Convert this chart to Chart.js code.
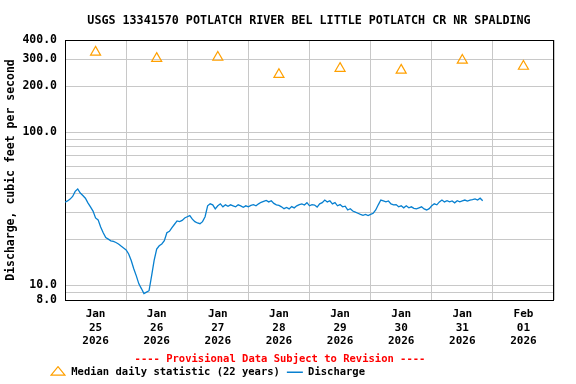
<!DOCTYPE html>
<html>
<head>
<meta charset="utf-8">
<script src="https://cdn.jsdelivr.net/npm/chart.js@4.4.1/dist/chart.umd.min.js"></script>
<style>
  html, body { margin: 0; padding: 0; background: #fff; }
  #wrap { width: 576px; height: 384px; }
</style>
</head>
<body>
<div id="wrap"><canvas id="hydrograph" width="576" height="384"></canvas></div>
<script>
const siteTitle = 'USGS 13341570 POTLATCH RIVER BEL LITTLE POTLATCH CR NR SPALDING';
const provisionalNote = '---- Provisional Data Subject to Revision ----';
const yAxisTitle = 'Discharge, cubic feet per second';

// one entry per day, Jan 25 .. Feb 01
const dayMonths = ['Jan', 'Jan', 'Jan', 'Jan', 'Jan', 'Jan', 'Jan', 'Feb'];
const dayNumbers = ['25', '26', '27', '28', '29', '30', '31', '01'];
const dayYears = ['2026', '2026', '2026', '2026', '2026', '2026', '2026', '2026'];

// median daily statistic (22 years), cfs, one per day
const medianValues = [333, 303, 308, 238, 261, 254, 295, 269];

// discharge, cfs, hourly starting Jan 25 00:00
const dischargeValues = [
  34.9, 35.5, 36.5, 38, 41, 42.5, 40, 38.5, 37, 34.5, 32.5, 30.5, 27.5, 26.7, 24, 22, 20.5, 20, 19.5, 19.3, 19, 18.6, 18, 17.5,
  17, 16, 14.5, 12.8, 11.5, 10.2, 9.5, 8.8, 9.0, 9.2, 11.5, 14.5, 17.2, 18.1, 18.6, 19.5, 22, 22.5, 23.8, 25, 26.3, 26, 26.5, 27.5,
  28, 28.5, 27, 26, 25.5, 25.2, 26, 28, 33, 34, 33.5, 31.5, 33, 34, 32.5, 33.5, 32.8, 33.5, 33, 32.5, 33.5, 33, 32.3, 33,
  32.5, 33.2, 33.6, 33, 34, 34.8, 35.3, 35.8, 35, 35.6, 34.2, 33.5, 33.2, 32.5, 31.6, 32.2, 31.5, 32.6, 32, 33, 33.6, 34, 33.4, 34.6,
  33, 33.6, 33.4, 32.4, 34, 34.6, 36, 35, 35.6, 34, 34.6, 33, 33.6, 32.5, 32.8, 31, 31.6, 30.5, 30, 29.5, 29, 28.6, 29, 28.5,
  29, 29.5, 31, 33.5, 36, 35.5, 35, 35.5, 34, 33.5, 33.6, 32.5, 33, 32, 33, 32, 32.5, 31.8, 31.5, 32, 32.5, 31.5, 31, 31.6,
  33, 34, 33.5, 35, 36, 35, 35.6, 35, 35.5, 34.5, 35.6, 35, 35.5, 36, 35.4, 36, 36.2, 36.6, 36, 37, 35.6
];

const yGridValues = [8, 9, 10, 20, 30, 40, 50, 60, 70, 80, 90, 100, 200, 300, 400];
const yLabelValues = [8, 10, 100, 200, 300, 400];

const monoFont = "'DejaVu Sans Mono', monospace";
const gridGray = '#c8c8c8';

// x is hours since Jan 25 00:00
const dischargePoints = dischargeValues.map((v, i) => ({ x: i, y: v }));
const medianPoints = medianValues.map((v, i) => ({ x: i * 24 + 12, y: v }));

const extras = {
  id: 'extras',
  afterLayout(chart) {
    // put the legend under the provisional note, left side
    const lg = chart.legend;
    const dx = 43 - lg.left, dy = 360 - lg.top;
    lg.left += dx; lg.right += dx;
    lg.top += dy; lg.bottom += dy;
  },
  beforeDatasetsDraw(chart) {
    const { ctx, chartArea: a } = chart;
    ctx.save();
    ctx.strokeStyle = '#000';
    ctx.lineWidth = 1;
    ctx.strokeRect(a.left + 0.5, a.top + 0.5, a.right - a.left - 1, a.bottom - a.top);
    ctx.restore();
  },
  afterDraw(chart) {
    const ctx = chart.ctx;
    ctx.save();
    ctx.textAlign = 'center';
    ctx.textBaseline = 'middle';
    ctx.font = 'bold 11.7px ' + monoFont;
    ctx.fillStyle = '#000';
    ctx.fillText(siteTitle, 309, 20.5);
    ctx.font = 'bold 10.5px ' + monoFont;
    ctx.fillStyle = '#ff0000';
    ctx.fillText(provisionalNote, 280, 359);
    ctx.restore();
  }
};

Chart.defaults.font.family = monoFont;
Chart.defaults.font.weight = 'bold';
Chart.defaults.color = '#000';

new Chart(document.getElementById('hydrograph'), {
  type: 'line',
  data: {
    datasets: [
      {
        label: 'Median daily statistic (22 years)',
        data: medianPoints,
        showLine: false,
        pointStyle: 'triangle',
        pointRadius: 5.8,
        pointBorderWidth: 1.2,
        borderColor: '#ffa000',
        backgroundColor: 'rgba(255,255,255,0)',
        pointBackgroundColor: 'rgba(255,255,255,0)'
      },
      {
        label: 'Discharge',
        data: dischargePoints,
        borderColor: '#0880d0',
        borderWidth: 1.3,
        pointRadius: 0,
        pointStyle: 'line',
        tension: 0,
        fill: false
      }
    ]
  },
  options: {
    responsive: false,
    animation: false,
    layout: { padding: { top: 40, right: 22, left: 0, bottom: 0 } },
    plugins: {
      title: { display: false },
      tooltip: { enabled: false },
      legend: {
        position: 'bottom',
        align: 'start',
        labels: {
          usePointStyle: true,
          pointStyleWidth: 16,
          boxHeight: 8,
          padding: 7,
          font: { size: 10.5, weight: 'bold', family: monoFont },
          color: '#000'
        }
      }
    },
    scales: {
      x: {
        type: 'linear',
        min: 0,
        max: 192,
        afterBuildTicks: s => {
          const t = [];
          for (let h = 0; h <= 192; h += 12) t.push({ value: h });
          s.ticks = t;
        },
        afterFit: s => { s.height = 384 - 300 - s.chart.legend.height; },
        border: { display: false },
        grid: {
          drawTicks: false,
          color: c => (c.tick && c.tick.value % 24 === 0) ? gridGray : 'rgba(0,0,0,0)'
        },
        ticks: {
          autoSkip: false,
          maxRotation: 0,
          padding: 8,
          font: { size: 11, weight: 'bold', lineHeight: 1.2 },
          callback: v => {
            if (v % 24 !== 12) return '';
            const d = (v - 12) / 24;
            return [dayMonths[d], dayNumbers[d], dayYears[d]];
          }
        }
      },
      y: {
        type: 'logarithmic',
        min: 8,
        max: 400,
        afterBuildTicks: s => { s.ticks = yGridValues.map(v => ({ value: v })); },
        afterFit: s => { s.width = 65; },
        border: { display: false },
        grid: { drawTicks: false, color: gridGray },
        title: {
          display: true,
          text: yAxisTitle,
          font: { size: 11.5, weight: 'bold' },
          padding: { top: 4, bottom: 0 }
        },
        ticks: {
          autoSkip: false,
          padding: 8,
          font: { size: 11.5, weight: 'bold' },
          callback: v => yLabelValues.includes(v) ? v.toFixed(1) : ''
        }
      }
    }
  },
  plugins: [extras]
});
</script>
</body>
</html>
